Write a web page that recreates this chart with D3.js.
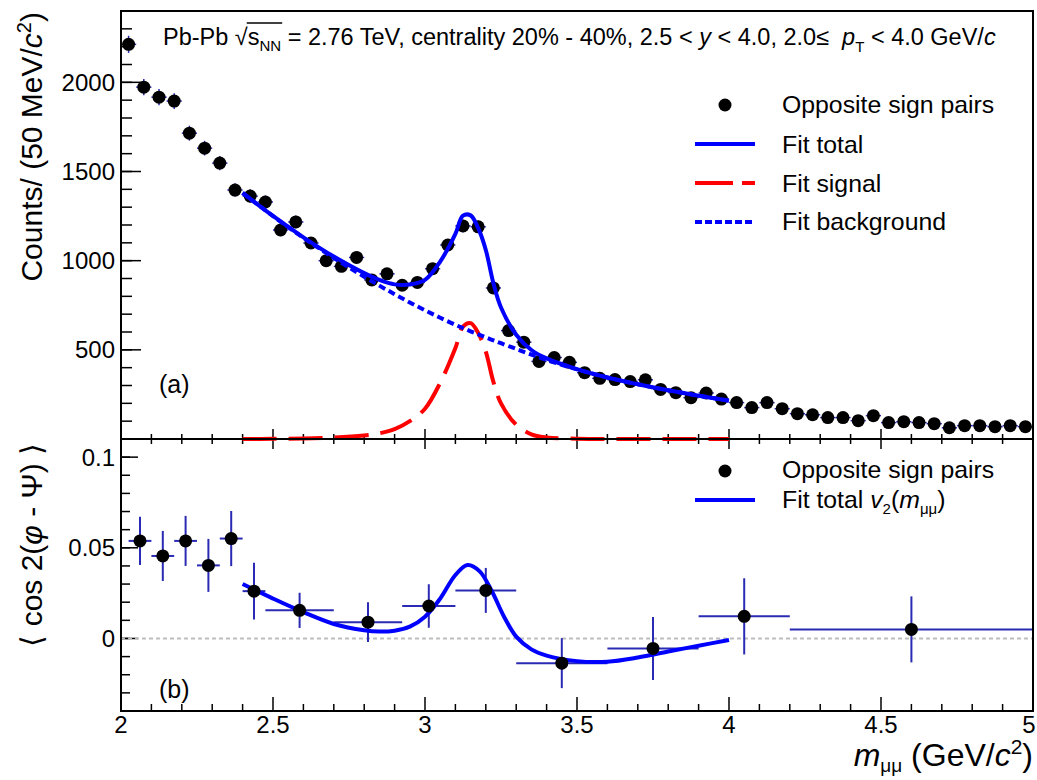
<!DOCTYPE html>
<html><head><meta charset="utf-8">
<script src="https://cdn.jsdelivr.net/npm/d3@7"></script>
<style>
body{margin:0;background:#fff}
text{font-family:"Liberation Sans",Arial,Helvetica,sans-serif;fill:#000}
</style>
</head><body>
<svg id="chart" width="1037" height="780"></svg>
<script>
// ---------- DATA ----------
const massBins = [2.025,2.075,2.125,2.175,2.225,2.275,2.325,2.375,2.425,2.475,
  2.525,2.575,2.625,2.675,2.725,2.775,2.825,2.875,2.925,2.975,
  3.025,3.075,3.125,3.175,3.225,3.275,3.325,3.375,3.425,3.475,
  3.525,3.575,3.625,3.675,3.725,3.775,3.825,3.875,3.925,3.975,
  4.025,4.075,4.125,4.175,4.225,4.275,4.325,4.375,4.425,4.475,
  4.525,4.575,4.625,4.675,4.725,4.775,4.825,4.875,4.925,4.975];
const counts = [2213,1973,1917,1895,1715,1631,1547,1396,1362,1329,
  1172,1217,1099,1000,968,1018,892,926,862,878,
  955,1088,1195,1190,847,608,543,435,457,430,
  372,340,333,322,332,278,260,232,258,224,
  204,176,204,170,142,136,120,120,103,131,
  92,97,92,86,63,75,75,69,75,69];
const countErr = [48,45,45,44,42,41,40,38,38,37,
  35,36,34,33,32,33,31,31,30,30,
  31,33,35,35,30,26,24,22,22,21,
  20,19,19,18,19,17,16,16,16,15,
  15,14,15,14,13,13,12,12,11,12,
  11,11,11,10,9,9,9,9,9,9];
const binHalfWidth = 0.025;

// fit curves
const fitMass = [2.4,2.5,2.6,2.7,2.8,2.85,2.9,2.95,3.0,3.05,3.1,3.125,3.15,3.175,3.2,3.225,3.25,3.3,3.35,3.4,3.5,3.6,3.7,3.8,3.9,4.0];
const fitBkg  = [1380,1250,1128,1015,910,860,812,766,722,680,640,622,604,587,570,553,537,505,473,443,390,345,307,273,243,215];
const fitSig  = [0,1,3,8,20,32,55,100,170,315,510,630,650,595,490,320,200,80,26,9,2,0,0,0,0,0];

// v2 panel
const v2Lo  = [2.025,2.1,2.175,2.25,2.325,2.4,2.475,2.7,2.925,3.1,3.3,3.6,3.9,4.2];
const v2Hi  = [2.1,2.175,2.25,2.325,2.4,2.475,2.7,2.925,3.1,3.3,3.6,3.9,4.2,5.0];
const v2Mass= [2.0625,2.1375,2.2125,2.2875,2.3625,2.4375,2.5875,2.8125,3.0125,3.2,3.45,3.75,4.05,4.6];
const v2Val = [0.0538,0.0455,0.0538,0.0403,0.0551,0.0261,0.0155,0.0090,0.0179,0.0265,-0.0136,-0.0055,0.0122,0.0050];
const v2Err = [0.0133,0.0138,0.0138,0.0146,0.0152,0.0157,0.0097,0.0110,0.0120,0.0124,0.0138,0.0174,0.0210,0.0182];
const v2FitMass = [2.4,2.5,2.6,2.7,2.8,2.85,2.9,2.95,3.0,3.05,3.1,3.14,3.18,3.22,3.26,3.3,3.35,3.4,3.5,3.6,3.7,3.8,3.9,4.0];
const v2Fit     = [0.0300,0.0220,0.0145,0.0080,0.0045,0.0038,0.0043,0.0065,0.0120,0.0220,0.0350,0.0405,0.0370,0.0260,0.0120,0.0010,-0.0060,-0.0095,-0.0125,-0.0128,-0.0105,-0.0072,-0.0040,-0.0008];

const xTicksMajor = [2,2.5,3,3.5,4,4.5,5];
const xTickLabels = ["2","2.5","3","3.5","4","4.5","5"];
const yTopTicksMajor = [500,1000,1500,2000];
const yBotTicksMajor = [0,0.05,0.1];
const yBotTickLabels = ["0","0.05","0.1"];

// ---------- LAYOUT ----------
const L = 121, R = 1033, T1 = 11, B1 = 439, T2 = 439, B2 = 711;
const svg = d3.select("#chart");
const x = d3.scaleLinear().domain([2,5]).range([L,R]);
const yTop = d3.scaleLinear().domain([0,2400]).range([B1,T1]);
const yBot = d3.scaleLinear().domain([-0.04,0.11]).range([B2,T2]);

const BLUE = "#0000ff", RED = "#ff0000", ERR = "#2a2ab4";

// ---------- AXES ----------
function yAxis(scale, major, minor, labels, majLen, minLen, fs) {
  const g = svg.append("g");
  g.selectAll(".mi").data(minor).join("line")
    .attr("x1", L).attr("x2", L + minLen).attr("y1", d => scale(d)).attr("y2", d => scale(d))
    .attr("stroke", "#000").attr("stroke-width", 1.5);
  g.selectAll(".ma").data(major).join("line")
    .attr("x1", L).attr("x2", L + majLen).attr("y1", d => scale(d)).attr("y2", d => scale(d))
    .attr("stroke", "#000").attr("stroke-width", 1.5);
  g.selectAll("text").data(major).join("text")
    .attr("x", L - 6).attr("y", d => scale(d) + fs*0.36)
    .attr("text-anchor", "end").attr("font-size", fs)
    .text((d,i) => labels ? labels[i] : d);
}
function xTicks(yPos, dir, majLen, minLen) {
  const minor = d3.range(2.1, 5.0, 0.1).filter(v => Math.abs(v*2 - Math.round(v*2)) > 1e-6);
  svg.append("g").selectAll("line").data(minor).join("line")
    .attr("x1", d => x(d)).attr("x2", d => x(d)).attr("y1", yPos).attr("y2", yPos + dir*minLen)
    .attr("stroke", "#000").attr("stroke-width", 1.5);
  svg.append("g").selectAll("line").data(xTicksMajor).join("line")
    .attr("x1", d => x(d)).attr("x2", d => x(d)).attr("y1", yPos).attr("y2", yPos + dir*majLen)
    .attr("stroke", "#000").attr("stroke-width", 1.5);
}

yAxis(yTop, yTopTicksMajor, d3.range(100, 2400, 100), null, 20, 11, 24);
yAxis(yBot, yBotTicksMajor, d3.range(-0.04, 0.1101, 0.01).map(v => +v.toFixed(3)), yBotTickLabels, 17, 9, 24);
xTicks(B1, -1, 10, 5);
xTicks(T2, 1, 10, 5);
xTicks(B2, -1, 14, 7);

svg.append("g").selectAll("text").data(xTicksMajor).join("text")
  .attr("x", d => Math.min(x(d), 1029)).attr("y", B2 + 22)
  .attr("text-anchor", "middle").attr("font-size", 24)
  .text((d,i) => xTickLabels[i]);

// zero line
svg.append("line").attr("x1", L).attr("x2", R).attr("y1", yBot(0)).attr("y2", yBot(0))
  .attr("stroke", "#bdbdbd").attr("stroke-width", 2).attr("stroke-dasharray", "4,3");

// ---------- TOP PANEL DATA ----------
const gTop = svg.append("g");
const curve = d3.curveCatmullRom.alpha(0.5);
const fitTotal = fitBkg.map((b,i) => b + fitSig[i]);
const lineTop = vals => d3.line().x((d,i) => x(fitMass[i])).y((d) => yTop(d)).curve(curve)(vals);

gTop.selectAll(".eh").data(counts).join("line")
  .attr("x1", (d,i) => x(massBins[i] - binHalfWidth)).attr("x2", (d,i) => x(massBins[i] + binHalfWidth))
  .attr("y1", d => yTop(d)).attr("y2", d => yTop(d)).attr("stroke", ERR).attr("stroke-width", 1.5);
gTop.selectAll(".ev").data(counts).join("line")
  .attr("x1", (d,i) => x(massBins[i])).attr("x2", (d,i) => x(massBins[i]))
  .attr("y1", (d,i) => yTop(d - countErr[i])).attr("y2", (d,i) => yTop(d + countErr[i]))
  .attr("stroke", ERR).attr("stroke-width", 1.5);
gTop.selectAll("circle").data(counts).join("circle")
  .attr("cx", (d,i) => x(massBins[i])).attr("cy", d => yTop(d)).attr("r", 6.5).attr("fill", "#000");

gTop.append("path").attr("d", lineTop(fitSig)).attr("fill", "none").attr("stroke", RED)
  .attr("stroke-width", 4).attr("stroke-dasharray", "34,12");
gTop.append("path").attr("d", lineTop(fitBkg)).attr("fill", "none").attr("stroke", BLUE)
  .attr("stroke-width", 4).attr("stroke-dasharray", "7,4");
gTop.append("path").attr("d", lineTop(fitTotal)).attr("fill", "none").attr("stroke", BLUE)
  .attr("stroke-width", 4);

// ---------- BOTTOM PANEL DATA ----------
const gBot = svg.append("g");
gBot.selectAll(".eh").data(v2Val).join("line")
  .attr("x1", (d,i) => x(v2Lo[i])).attr("x2", (d,i) => x(v2Hi[i]))
  .attr("y1", d => yBot(d)).attr("y2", d => yBot(d)).attr("stroke", ERR).attr("stroke-width", 2);
gBot.selectAll(".ev").data(v2Val).join("line")
  .attr("x1", (d,i) => x(v2Mass[i])).attr("x2", (d,i) => x(v2Mass[i]))
  .attr("y1", (d,i) => yBot(d - v2Err[i])).attr("y2", (d,i) => yBot(d + v2Err[i]))
  .attr("stroke", ERR).attr("stroke-width", 2);
gBot.append("path")
  .attr("d", d3.line().x((d,i) => x(v2FitMass[i])).y(d => yBot(d)).curve(curve)(v2Fit))
  .attr("fill", "none").attr("stroke", BLUE).attr("stroke-width", 4);
gBot.selectAll("circle").data(v2Val).join("circle")
  .attr("cx", (d,i) => x(v2Mass[i])).attr("cy", d => yBot(d)).attr("r", 6.5).attr("fill", "#000");

// ---------- FRAMES ----------
svg.append("rect").attr("x", L).attr("y", T1).attr("width", R-L).attr("height", B2-T1)
  .attr("fill", "none").attr("stroke", "#000").attr("stroke-width", 2);
svg.append("line").attr("x1", L).attr("x2", R).attr("y1", B1).attr("y2", B1)
  .attr("stroke", "#000").attr("stroke-width", 2);

// ---------- TEXT ----------
const hdr = svg.append("text").attr("x", 163).attr("y", 45).attr("font-size", 23.5);
hdr.append("tspan").text("Pb-Pb ");
hdr.append("tspan").text("\u221A");
hdr.append("tspan").text("s");
hdr.append("tspan").attr("font-size", 15).attr("dy", 6).text("NN");
hdr.append("tspan").attr("dy", -6).text(" = 2.76 TeV, centrality 20% - 40%, 2.5 < ");
hdr.append("tspan").attr("font-style", "italic").text("y");
hdr.append("tspan").text(" < 4.0, 2.0\u2264\u00A0\u00A0");
hdr.append("tspan").attr("font-style", "italic").text("p");
hdr.append("tspan").attr("font-size", 15).attr("dy", 7).text("T");
hdr.append("tspan").attr("dy", -7).text(" < 4.0 GeV/");
hdr.append("tspan").attr("font-style", "italic").text("c");
{
  const n = hdr.node();
  const full = n.textContent;
  const iS = full.indexOf("\u221A") + 1;
  const x0 = n.getStartPositionOfChar(iS).x;
  const x1 = n.getEndPositionOfChar(iS + 2).x;
  svg.append("line").attr("x1", x0 - 1).attr("x2", x1 + 1).attr("y1", 23).attr("y2", 23)
    .attr("stroke", "#000").attr("stroke-width", 1.4);
}

function legendText(xp, yc, parts, fs) {
  const t = svg.append("text").attr("x", xp).attr("y", yc + fs*0.36).attr("font-size", fs);
  parts.forEach(p => {
    const s = t.append("tspan").text(p.t);
    if (p.i) s.attr("font-style", "italic");
    if (p.fs) s.attr("font-size", p.fs);
    if (p.dy) s.attr("dy", p.dy);
  });
  return t;
}
const LX0 = 695, LX1 = 755, LT = 782, LFS = 24.8;
svg.append("circle").attr("cx", 725).attr("cy", 105).attr("r", 6.5).attr("fill", "#000");
legendText(LT, 104, [{t:"Opposite sign pairs"}], LFS);
svg.append("line").attr("x1", LX0).attr("x2", LX1).attr("y1", 144).attr("y2", 144).attr("stroke", BLUE).attr("stroke-width", 4);
legendText(LT, 144, [{t:"Fit total"}], LFS);
svg.append("line").attr("x1", LX0).attr("x2", LX1).attr("y1", 183).attr("y2", 183).attr("stroke", RED).attr("stroke-width", 4).attr("stroke-dasharray", "38,9");
legendText(LT, 183, [{t:"Fit signal"}], LFS);
svg.append("line").attr("x1", LX0).attr("x2", LX1).attr("y1", 222).attr("y2", 222).attr("stroke", BLUE).attr("stroke-width", 4).attr("stroke-dasharray", "7,3");
legendText(LT, 221, [{t:"Fit background"}], LFS);

svg.append("circle").attr("cx", 725).attr("cy", 471).attr("r", 6.5).attr("fill", "#000");
legendText(LT, 469, [{t:"Opposite sign pairs"}], LFS);
svg.append("line").attr("x1", LX0).attr("x2", LX1).attr("y1", 500).attr("y2", 500).attr("stroke", BLUE).attr("stroke-width", 4);
legendText(LT, 499, [{t:"Fit total "},{t:"v",i:true},{t:"2",fs:15,dy:6},{t:"(",dy:-6},{t:"m",i:true},{t:"\u03BC\u03BC",fs:15,dy:6},{t:")",dy:-6}], LFS);

svg.append("text").attr("x", 159).attr("y", 393).attr("font-size", 25).text("(a)");
svg.append("text").attr("x", 159).attr("y", 698).attr("font-size", 25).text("(b)");

const yt1 = svg.append("text").attr("transform", "translate(42,12) rotate(-90)")
  .attr("text-anchor", "end").attr("font-size", 30);
yt1.append("tspan").text("Counts/ (50 MeV/");
yt1.append("tspan").attr("font-style", "italic").text("c");
yt1.append("tspan").attr("font-size", 20).attr("dy", -11).text("2");
yt1.append("tspan").attr("dy", 11).text(")");

const yt2 = svg.append("text").attr("transform", "translate(42,443) rotate(-90)")
  .attr("text-anchor", "end").attr("font-size", 30);
yt2.append("tspan").text("\u27E8 cos 2(");
yt2.append("tspan").attr("font-style", "italic").text("\u03C6");
yt2.append("tspan").text(" - \u03A8) \u27E9");

const xt = svg.append("text").attr("x", R).attr("y", 766).attr("text-anchor", "end").attr("font-size", 32);
xt.append("tspan").attr("font-style", "italic").text("m");
xt.append("tspan").attr("font-size", 19).attr("dy", 6).text("\u03BC\u03BC");
xt.append("tspan").attr("dy", -6).text(" (GeV/");
xt.append("tspan").attr("font-style", "italic").text("c");
xt.append("tspan").attr("font-size", 21).attr("dy", -12).text("2");
xt.append("tspan").attr("dy", 12).text(")");
</script>
</body></html>
